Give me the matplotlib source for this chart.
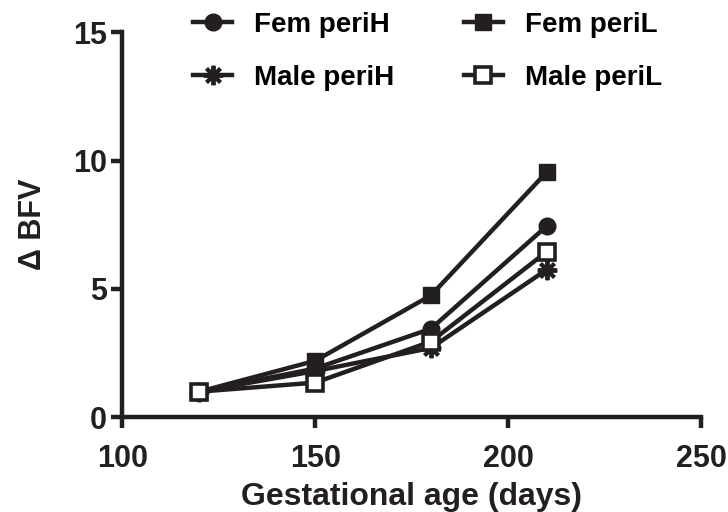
import matplotlib
matplotlib.use("Agg")
import matplotlib.pyplot as plt

plt.rcParams["font.family"] = ["Liberation Sans", "DejaVu Sans"]
plt.rcParams["font.weight"] = "bold"

ink = "#231f20"

days = [120, 150, 180, 210]
fem_peri_h = [1.0, 1.9, 3.45, 7.45]
fem_peri_l = [1.0, 2.2, 4.75, 9.55]
male_peri_h = [1.0, 1.8, 2.7, 5.75]
male_peri_l = [1.0, 1.35, 2.95, 6.45]

fig = plt.figure(figsize=(7.28, 5.12), dpi=100)
ax = fig.add_axes([0.168, 0.185, 0.795, 0.752])

lw = 3.2
h1, = ax.plot(days, fem_peri_h, color=ink, lw=lw, marker="o", ms=12, label="Fem periH")
h2, = ax.plot(days, fem_peri_l, color=ink, lw=lw, marker="s", ms=12, label="Fem periL")
h3, = ax.plot(days, male_peri_h, color=ink, lw=lw, marker=(8, 2, 0), ms=14, mew=2.8,
              label="Male periH")
h4, = ax.plot(days, male_peri_l, color=ink, lw=lw, marker="s", ms=11, mfc="white",
              mew=2.6, label="Male periL")

ax.set_xlim(100, 250)
ax.set_ylim(0, 15)
ax.set_xticks([100, 150, 200, 250])
ax.set_yticks([0, 5, 10, 15])
for s in ["top", "right"]:
    ax.spines[s].set_visible(False)
for s in ["left", "bottom"]:
    ax.spines[s].set_linewidth(3.2)
    ax.spines[s].set_color(ink)
    ax.spines[s].set_capstyle("projecting")
ax.tick_params(width=3.2, length=8, color=ink, labelsize=22, labelcolor=ink, pad=3)
ax.tick_params(axis="x", pad=11)
for t in ax.get_xticklabels() + ax.get_yticklabels():
    t.set_fontweight("bold")

ax.set_xlabel("Gestational age (days)", fontsize=23, fontweight="bold", color=ink,
              labelpad=6)
ax.set_ylabel("Δ BFV", fontsize=22, fontweight="bold", color=ink, labelpad=18)

# ncol fills column by column, so order handles to get Fem on row 1, Male on row 2
fig.legend([h1, h3, h2, h4], ["Fem periH", "Male periH", "Fem periL", "Male periL"],
           loc="upper left", bbox_to_anchor=(0.231, 1.025), ncol=2, frameon=False,
           handlelength=1.4, handletextpad=0.8, columnspacing=2.5, labelspacing=0.95,
           prop={"weight": "bold", "size": 20})

fig.savefig("out.png", dpi=100)
